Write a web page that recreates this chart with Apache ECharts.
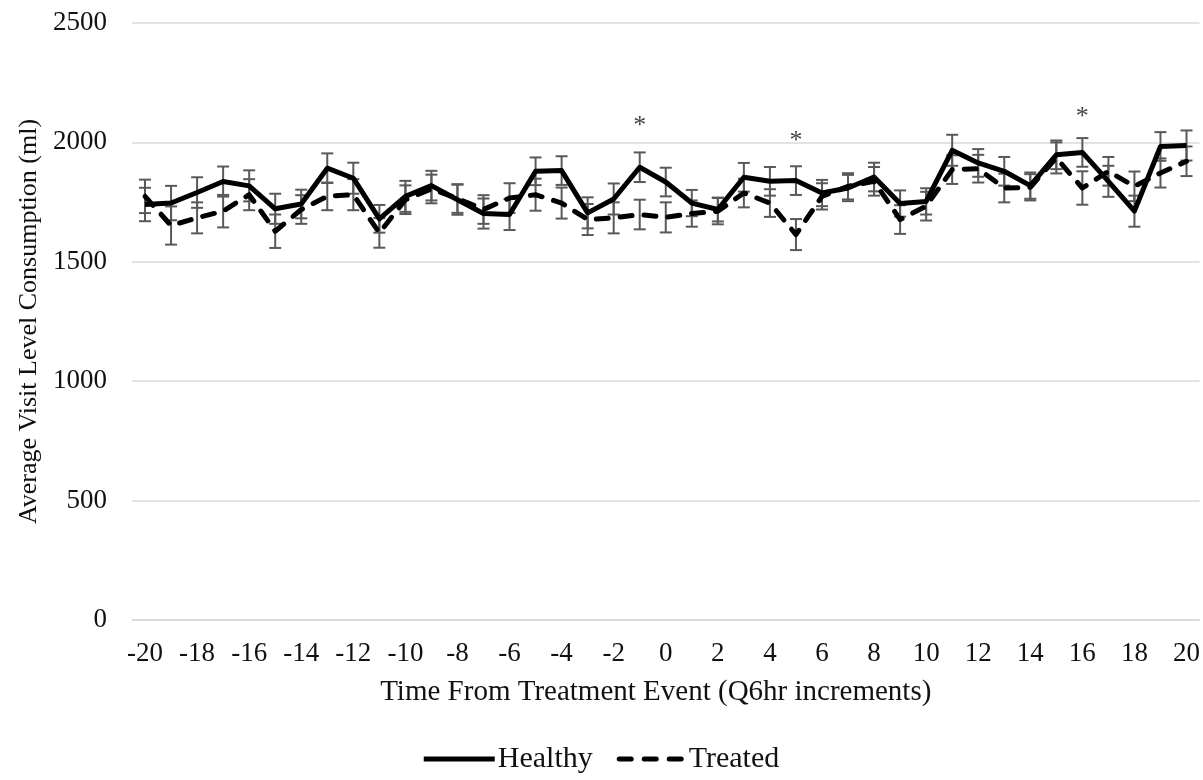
<!DOCTYPE html>
<html>
<head>
<meta charset="utf-8">
<script src="https://cdn.jsdelivr.net/npm/echarts@6/dist/echarts.min.js"></script>
<style>html,body{margin:0;padding:0;background:#fff;}#c{width:1203px;height:780px;}</style>
</head>
<body>
<div id="c"></div>
<script>
const categories = ['-20','-19','-18','-17','-16','-15','-14','-13','-12','-11','-10','-9','-8','-7','-6','-5','-4','-3','-2','-1','0','1','2','3','4','5','6','7','8','9','10','11','12','13','14','15','16','17','18','19','20'];
const healthy = [1740,1746,1790,1836,1818,1722,1742,1892,1850,1680,1774,1819,1760,1702,1698,1879,1882,1705,1763,1896,1834,1746,1719,1854,1837,1840,1788,1809,1855,1744,1753,1967,1914,1879,1819,1948,1958,1837,1712,1983,1987];
const treated = [1774,1652,1684,1712,1781,1628,1719,1774,1781,1621,1760,1805,1765,1719,1767,1781,1746,1677,1684,1698,1686,1702,1712,1788,1746,1614,1774,1816,1837,1677,1733,1886,1890,1809,1812,1935,1809,1879,1816,1872,1921];
const healthyErr = [70,72,64,63,65,63,60,62,65,58,65,62,63,63,65,58,60,65,65,62,60,55,50,60,60,60,55,55,60,55,55,65,58,60,55,60,60,65,65,60,63];
const treatedErr = [70,80,65,68,65,70,60,58,65,62,60,60,60,60,62,67,65,65,65,62,63,55,55,60,58,65,55,55,60,60,60,60,58,60,55,65,70,60,62,61,62];
const sigLabels = ['-1','5','16'];
const sigValues = [2068,2005,2105];

const FONT = 'Liberation Serif';
const TXT = '#111';

function errData(vals, errs){
  return vals.map((v,i)=>[i, v-errs[i], v+errs[i]]);
}
function renderErr(params, api){
  const x = api.value(0);
  const lo = api.coord([x, api.value(1)]);
  const hi = api.coord([x, api.value(2)]);
  const w = 6;
  const st = {stroke:'#595959', lineWidth:2};
  return {type:'group', children:[
    {type:'line', shape:{x1:lo[0],y1:lo[1],x2:hi[0],y2:hi[1]}, style:st},
    {type:'line', shape:{x1:lo[0]-w,y1:lo[1],x2:lo[0]+w,y2:lo[1]}, style:st},
    {type:'line', shape:{x1:hi[0]-w,y1:hi[1],x2:hi[0]+w,y2:hi[1]}, style:st}
  ]};
}

const solidIcon = 'path://M0,0 L72,0 L72,5 L0,5 Z';
const dashIcon = 'path://M2.5,0 L14.5,0 A2.5,2.5 0 0 1 14.5,5 L2.5,5 A2.5,2.5 0 0 1 2.5,0 Z M27.5,0 L39.5,0 A2.5,2.5 0 0 1 39.5,5 L27.5,5 A2.5,2.5 0 0 1 27.5,0 Z M52.5,0 L64.5,0 A2.5,2.5 0 0 1 64.5,5 L52.5,5 A2.5,2.5 0 0 1 52.5,0 Z';

const chart = echarts.init(document.getElementById('c'), null, {renderer:'canvas'});
chart.setOption({
  animation:false,
  backgroundColor:'#fff',
  grid:{left:132, right:3, top:23, bottom:160, containLabel:false},
  legend:{
    data:[{name:'Healthy', icon:solidIcon},{name:'Treated', icon:dashIcon}],
    bottom:1, left:'center',
    itemWidth:71, itemHeight:5, itemGap:24,
    textStyle:{fontFamily:FONT, fontSize:30, color:TXT, padding:[0,0,0,-2]}
  },
  xAxis:{
    type:'category', data:categories, boundaryGap:true,
    axisLine:{show:true, lineStyle:{color:'#d9d9d9', width:1.5}},
    axisTick:{show:false},
    axisLabel:{interval:1, margin:20, fontFamily:FONT, fontSize:27, color:TXT},
    name:'Time From Treatment Event (Q6hr increments)',
    nameLocation:'middle', nameGap:58,
    nameTextStyle:{fontFamily:FONT, fontSize:29, color:TXT, padding:[0,20,0,0]}
  },
  yAxis:{
    type:'value', min:0, max:2500, interval:500,
    axisLine:{show:false}, axisTick:{show:false},
    splitLine:{lineStyle:{color:'#d9d9d9', width:1.5}},
    axisLabel:{margin:25, fontFamily:FONT, fontSize:27, color:TXT, formatter:(v)=>String(v)},
    name:'Average Visit Level Consumption (ml)',
    nameLocation:'middle', nameGap:89, nameRotate:90,
    nameTextStyle:{fontFamily:FONT, fontSize:26, color:TXT}
  },
  series:[
    {type:'custom', name:'HealthyErr', renderItem:renderErr, data:errData(healthy, healthyErr), encode:{x:0,y:[1,2]}, z:1, silent:true},
    {type:'custom', name:'TreatedErr', renderItem:renderErr, data:errData(treated, treatedErr), encode:{x:0,y:[1,2]}, z:1, silent:true},
    {type:'line', name:'Treated', data:treated, symbol:'none', showSymbol:false, z:3,
      lineStyle:{color:'#000', width:5, type:[12,12], cap:'round', join:'round'},
      itemStyle:{color:'#000'}},
    {type:'line', name:'Healthy', data:healthy, symbol:'none', showSymbol:false, z:4,
      lineStyle:{color:'#000', width:5, join:'round'},
      itemStyle:{color:'#000'}},
    {type:'scatter', name:'sig', symbolSize:1, itemStyle:{color:'rgba(0,0,0,0)'},
      data:sigLabels.map((c,i)=>[c, sigValues[i]]),
      label:{show:true, position:'inside', formatter:'*', fontFamily:FONT, fontSize:26, color:TXT}, z:5}
  ]
});
</script>
</body>
</html>
